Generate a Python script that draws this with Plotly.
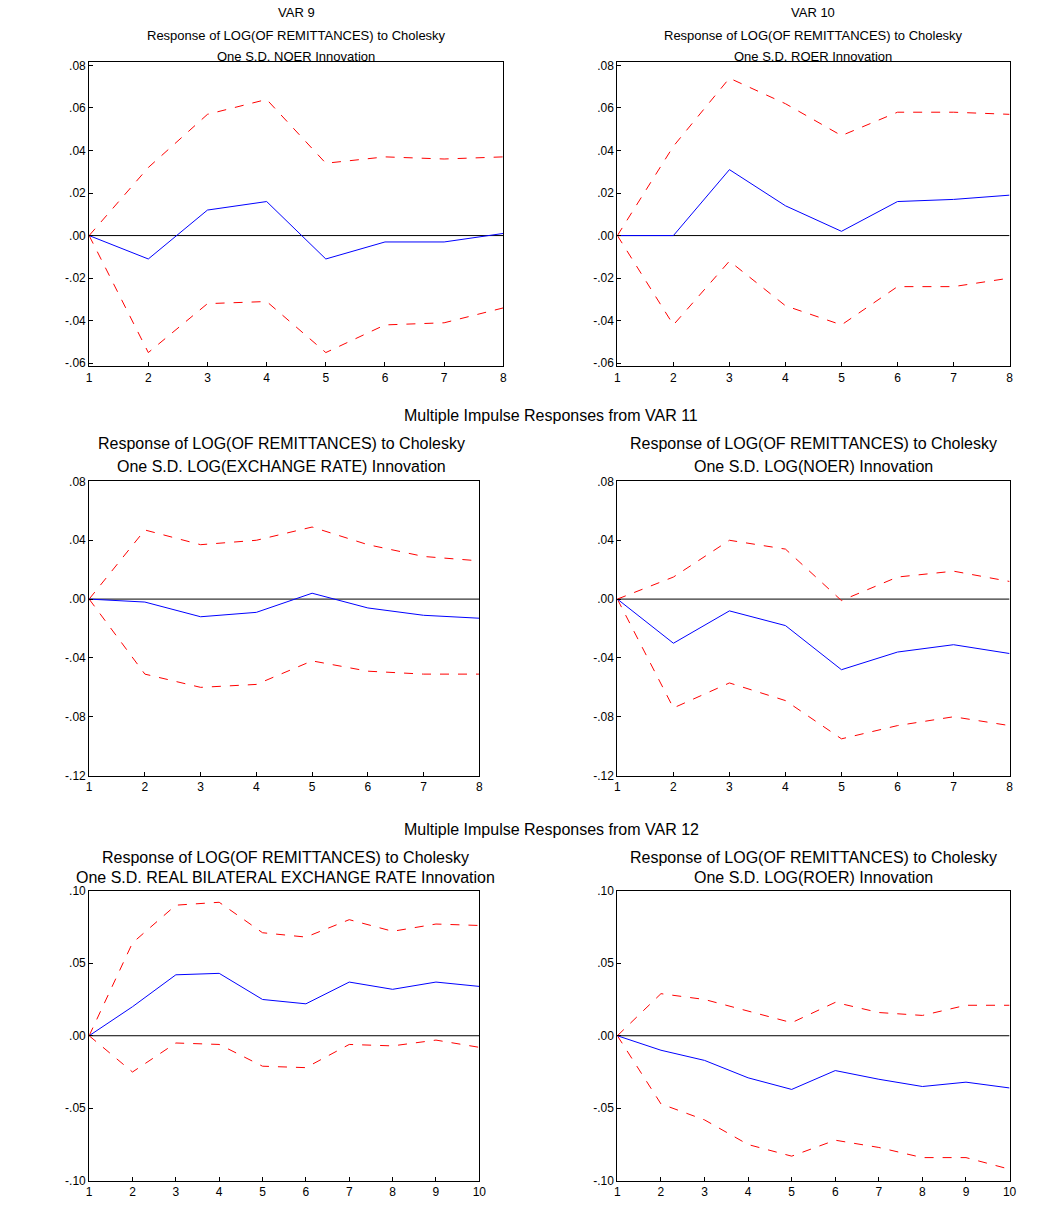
import plotly.graph_objects as go

W, H = 1048, 1220

steps8 = list(range(1, 9))
steps10 = list(range(1, 11))

p1_mid = [0, -0.011, 0.012, 0.016, -0.011, -0.003, -0.003, 0.001]
p1_up = [0, 0.032, 0.057, 0.064, 0.034, 0.037, 0.036, 0.037]
p1_lo = [0, -0.055, -0.032, -0.031, -0.055, -0.042, -0.041, -0.034]

p2_mid = [0, 0.0, 0.031, 0.014, 0.002, 0.016, 0.017, 0.019]
p2_up = [0, 0.042, 0.074, 0.062, 0.047, 0.058, 0.058, 0.057]
p2_lo = [0, -0.042, -0.012, -0.033, -0.042, -0.024, -0.024, -0.020]

p3_mid = [0, -0.002, -0.012, -0.009, 0.004, -0.006, -0.011, -0.013]
p3_up = [0, 0.047, 0.037, 0.040, 0.049, 0.037, 0.029, 0.026]
p3_lo = [0, -0.051, -0.060, -0.058, -0.042, -0.049, -0.051, -0.051]

p4_mid = [0, -0.030, -0.008, -0.018, -0.048, -0.036, -0.031, -0.037]
p4_up = [0, 0.015, 0.040, 0.034, -0.001, 0.015, 0.019, 0.012]
p4_lo = [0, -0.074, -0.057, -0.069, -0.095, -0.086, -0.080, -0.086]

p5_mid = [0, 0.020, 0.042, 0.043, 0.025, 0.022, 0.037, 0.032, 0.037, 0.034]
p5_up = [0, 0.064, 0.090, 0.092, 0.071, 0.068, 0.080, 0.072, 0.077, 0.076]
p5_lo = [0, -0.025, -0.005, -0.006, -0.021, -0.022, -0.006, -0.007, -0.003, -0.008]

p6_mid = [0, -0.010, -0.017, -0.029, -0.037, -0.024, -0.030, -0.035, -0.032, -0.036]
p6_up = [0, 0.029, 0.025, 0.017, 0.009, 0.023, 0.016, 0.014, 0.021, 0.021]
p6_lo = [0, -0.047, -0.058, -0.075, -0.083, -0.072, -0.077, -0.084, -0.084, -0.092]

ticks_r1 = [0.08, 0.06, 0.04, 0.02, 0.0, -0.02, -0.04, -0.06]
labels_r1 = [".08", ".06", ".04", ".02", ".00", "-.02", "-.04", "-.06"]
ticks_r2 = [0.08, 0.04, 0.0, -0.04, -0.08, -0.12]
labels_r2 = [".08", ".04", ".00", "-.04", "-.08", "-.12"]
ticks_r3 = [0.10, 0.05, 0.0, -0.05, -0.10]
labels_r3 = [".10", ".05", ".00", "-.05", "-.10"]


# page offset correction (page margin around the plot)
def px(x):
    return (x - 9.9) / 0.990


def py(y):
    return (y - 14.8) / 0.988


# (x0, x1, y0, y1) in pixels, y range, steps, data, ticks
panels = [
    ((88, 502, 62, 366), [-0.0615, 0.0815], steps8, p1_mid, p1_up, p1_lo, ticks_r1, labels_r1),
    ((616, 1008, 62, 366), [-0.0615, 0.0815], steps8, p2_mid, p2_up, p2_lo, ticks_r1, labels_r1),
    ((88, 478, 481, 775), [-0.12, 0.08], steps8, p3_mid, p3_up, p3_lo, ticks_r2, labels_r2),
    ((616, 1008, 481, 775), [-0.12, 0.08], steps8, p4_mid, p4_up, p4_lo, ticks_r2, labels_r2),
    ((88, 478, 890, 1180), [-0.10, 0.10], steps10, p5_mid, p5_up, p5_lo, ticks_r3, labels_r3),
    ((616, 1008, 890, 1180), [-0.10, 0.10], steps10, p6_mid, p6_up, p6_lo, ticks_r3, labels_r3),
]

fig = go.Figure()
for i, (box, yr, steps, mid, up, lo, tv, tt) in enumerate(panels, start=1):
    x0, x1, y0, y1 = px(box[0]), px(box[1]), py(box[2]), py(box[3])
    xa = "x" if i == 1 else f"x{i}"
    ya = "y" if i == 1 else f"y{i}"
    fig.add_trace(go.Scatter(x=[steps[0], steps[-1]], y=[0, 0], mode="lines",
                             line=dict(color="black", width=1), xaxis=xa, yaxis=ya))
    for band in (up, lo):
        fig.add_trace(go.Scatter(x=steps, y=band, mode="lines",
                                 line=dict(color="red", width=1, dash="dash"), xaxis=xa, yaxis=ya))
    fig.add_trace(go.Scatter(x=steps, y=mid, mode="lines",
                             line=dict(color="blue", width=1), xaxis=xa, yaxis=ya))
    common = dict(showline=True, linecolor="black", linewidth=1, mirror=True,
                  ticks="inside", ticklen=4, tickcolor="black", showgrid=False,
                  zeroline=False, tickfont=dict(size=12, color="black"))
    fig.layout[f"xaxis{'' if i == 1 else i}"] = dict(
        domain=[x0 / W, x1 / W], range=[steps[0], steps[-1]], anchor=ya,
        tickvals=steps, **common)
    fig.layout[f"yaxis{'' if i == 1 else i}"] = dict(
        domain=[1 - y1 / H, 1 - y0 / H], range=yr, anchor=xa,
        tickvals=tv, ticktext=tt, **common)

# (x centre, y centre of line, text, font size)
titles = [
    (295, 12, "VAR 9", 13),
    (295, 35, "Response of LOG(OF REMITTANCES) to Cholesky", 13),
    (295, 56, "One S.D. NOER Innovation", 13),
    (812, 12, "VAR 10", 13),
    (812, 35, "Response of LOG(OF REMITTANCES) to Cholesky", 13),
    (812, 56, "One S.D. ROER Innovation", 13),
    (550, 415, "Multiple Impulse Responses from VAR 11", 16),
    (280, 443, "Response of LOG(OF REMITTANCES) to Cholesky", 16),
    (280, 466, "One S.D. LOG(EXCHANGE RATE) Innovation", 16),
    (812, 443, "Response of LOG(OF REMITTANCES) to Cholesky", 16),
    (812, 466, "One S.D. LOG(NOER) Innovation", 16),
    (550, 829, "Multiple Impulse Responses from VAR 12", 16),
    (284, 857, "Response of LOG(OF REMITTANCES) to Cholesky", 16),
    (284, 877, "One S.D. REAL BILATERAL EXCHANGE RATE Innovation", 16),
    (812, 857, "Response of LOG(OF REMITTANCES) to Cholesky", 16),
    (812, 877, "One S.D. LOG(ROER) Innovation", 16),
]
for x, y, text, size in titles:
    fig.add_annotation(x=px(x) / W, y=1 - py(y) / H, xref="paper", yref="paper", text=text,
                       showarrow=False, xanchor="center", yanchor="middle",
                       font=dict(size=size, color="black"))

fig.update_layout(width=W, height=H, margin=dict(l=0, r=0, t=0, b=0),
                  showlegend=False, plot_bgcolor="white", paper_bgcolor="white",
                  font=dict(family="Liberation Sans, Arial, sans-serif"))
fig.write_html("out.html")
